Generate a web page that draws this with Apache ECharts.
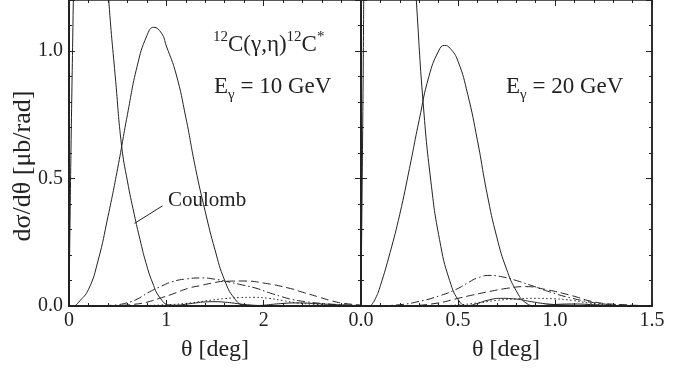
<!DOCTYPE html>
<html>
<head>
<meta charset="utf-8">
<script src="https://cdn.jsdelivr.net/npm/echarts@6/dist/echarts.min.js"></script>
<style>
  html, body { margin: 0; padding: 0; background: #fff; }
  #chart { width: 694px; height: 379px; }
</style>
</head>
<body>
<div id="chart"></div>
<script>
// E = 10 GeV panel (theta in deg, dsigma/dtheta in mub/rad)
const th10Coul = [0, 0.02, 0.044, 0.07, 0.1, 0.15, 0.2, 0.3, 0.41, 0.48, 0.54, 0.6, 0.67, 0.73, 0.79, 0.86, 0.93, 1.03, 1.1, 1.2, 1.3, 1.4, 1.5, 1.6, 1.7, 1.8, 2.0, 2.2, 2.5, 3.0];
const coul10 = [0, 0.6, 1.19, 1.9, 2.4, 2.6, 2.4, 1.8, 1.19, 0.88, 0.63, 0.49, 0.36, 0.26, 0.17, 0.09, 0.035, 0.004, 0.003, 0.007, 0.012, 0.016, 0.017, 0.015, 0.011, 0.006, 0.002, 0.002, 0.001, 0];
const th10Nuc = [0.06, 0.1, 0.2, 0.3, 0.4, 0.5, 0.6, 0.7, 0.8, 0.87, 0.95, 1.0, 1.1, 1.2, 1.3, 1.4, 1.5, 1.6, 1.7, 1.8, 1.9, 2.0, 2.1, 2.2, 2.3, 2.4, 2.5, 2.6, 2.8, 3.0];
const nuc10 = [0, 0.015, 0.065, 0.18, 0.35, 0.54, 0.75, 0.94, 1.06, 1.093, 1.07, 1.02, 0.91, 0.74, 0.54, 0.37, 0.22, 0.10, 0.03, 0.003, 0.001, 0.003, 0.007, 0.01, 0.012, 0.012, 0.01, 0.008, 0.004, 0.001];
const th10DashDot = [0.2, 0.4, 0.5, 0.6, 0.7, 0.83, 0.95, 1.06, 1.2, 1.37, 1.5, 1.61, 1.75, 1.92, 2.05, 2.19, 2.3, 2.43, 2.6, 2.8, 3.0];
const dashDot10 = [0, 0.002, 0.005, 0.013, 0.027, 0.056, 0.078, 0.095, 0.106, 0.11, 0.105, 0.097, 0.085, 0.07, 0.053, 0.036, 0.025, 0.017, 0.01, 0.005, 0.002];
const th10Dash = [0.3, 0.5, 0.7, 0.8, 0.93, 1.05, 1.23, 1.35, 1.47, 1.61, 1.8, 2.0, 2.26, 2.4, 2.56, 2.7, 2.83, 3.0];
const dash10 = [0, 0.002, 0.008, 0.015, 0.03, 0.045, 0.07, 0.08, 0.09, 0.097, 0.098, 0.09, 0.07, 0.054, 0.036, 0.02, 0.01, 0.004];
const th10Dot = [0.5, 0.8, 1.0, 1.2, 1.4, 1.6, 1.75, 1.9, 2.05, 2.2, 2.35, 2.5, 2.7, 3.0];
const dot10 = [0, 0.002, 0.005, 0.01, 0.02, 0.029, 0.033, 0.034, 0.03, 0.021, 0.012, 0.007, 0.003, 0.001];

// E = 20 GeV panel
const th20Coul = [0, 0.01, 0.02, 0.05, 0.1, 0.15, 0.2, 0.25, 0.285, 0.32, 0.36, 0.405, 0.457, 0.51, 0.55, 0.6, 0.65, 0.72, 0.8, 0.87, 0.95, 1.05, 1.2, 1.5];
const coul20 = [0, 0.8, 1.6, 2.8, 3.0, 2.7, 2.15, 1.62, 1.2, 0.80, 0.49, 0.26, 0.10, 0.015, 0.002, 0.01, 0.022, 0.03, 0.027, 0.018, 0.009, 0.004, 0.002, 0];
const th20Nuc = [0.05, 0.075, 0.1, 0.15, 0.2, 0.25, 0.3, 0.35, 0.4, 0.43, 0.46, 0.5, 0.55, 0.6, 0.65, 0.7, 0.75, 0.8, 0.85, 0.9, 1.0, 1.1, 1.2, 1.3, 1.5];
const nuc20 = [0, 0.03, 0.08, 0.21, 0.36, 0.54, 0.73, 0.90, 1.0, 1.022, 1.01, 0.96, 0.83, 0.65, 0.44, 0.27, 0.145, 0.06, 0.012, 0.001, 0.006, 0.008, 0.005, 0.002, 0.001];
const th20DashDot = [0.1, 0.2, 0.3, 0.405, 0.49, 0.56, 0.6, 0.665, 0.73, 0.8, 0.88, 0.97, 1.09, 1.23, 1.35, 1.5];
const dashDot20 = [0.001, 0.005, 0.018, 0.04, 0.065, 0.095, 0.11, 0.12, 0.114, 0.10, 0.08, 0.056, 0.03, 0.01, 0.004, 0.001];
const th20Dash = [0.3, 0.4, 0.5, 0.575, 0.65, 0.75, 0.85, 0.95, 1.09, 1.19, 1.3, 1.5];
const dash20 = [0.003, 0.012, 0.03, 0.043, 0.055, 0.069, 0.076, 0.065, 0.04, 0.018, 0.007, 0.001];
const th20Dot = [0.4, 0.5, 0.6, 0.7, 0.8, 0.9, 1.0, 1.09, 1.17, 1.25, 1.35, 1.5];
const dot20 = [0.001, 0.004, 0.012, 0.022, 0.028, 0.03, 0.028, 0.022, 0.012, 0.005, 0.002, 0];

// leader line for the "Coulomb" label, in data coordinates of the left panel
const leaderTheta = [0.673, 0.962];
const leaderValue = [0.324, 0.393];

const yMajorLabels = [0, 0.5, 1.0];

const INK = '#222';
const FONT = 'Liberation Serif';

const zip = (xs, ys) => xs.map((x, i) => [x, ys[i]]);

const curve = (name, xs, ys, grid, dash) => ({
  name,
  type: 'line',
  xAxisIndex: grid === 0 ? 0 : 2,
  yAxisIndex: grid === 0 ? 0 : 4,
  data: zip(xs, ys),
  smooth: 0.5,
  showSymbol: false,
  silent: true,
  clip: true,
  lineStyle: { color: INK, width: 1, type: dash || 'solid' },
});

const DASHDOT = [8, 3, 1.5, 3];
const DASH = [8, 4];
const DOT = [1.5, 2.5];

// x axes: bottom with labels, top with ticks only
const xAxisFor = (grid, max, interval, pos, labels) => ({
  type: 'value',
  gridIndex: grid,
  position: pos,
  min: 0,
  max,
  interval,
  axisLine: { show: true, onZero: false, lineStyle: { color: INK, width: pos === 'bottom' ? 2 : 1.5 } },
  axisTick: { show: true, inside: true, length: 6, lineStyle: { color: INK, width: 1 } },
  minorTick: { show: true, splitNumber: 5, length: 3, lineStyle: { color: INK, width: 1 } },
  splitLine: { show: false },
  axisLabel: {
    show: labels,
    margin: 5,
    color: INK,
    fontFamily: FONT,
    fontSize: 20,
    showMaxLabel: grid === 1,
    formatter: (v) => (grid === 0 ? String(v) : v.toFixed(1)),
  },
});

// y axes: one set for major ticks (0.5), one for minor ticks (0.1)
const yAxisFor = (grid, pos, major, labels, lw) => ({
  type: 'value',
  gridIndex: grid,
  position: pos,
  min: 0,
  max: 1.2,
  interval: major ? 0.5 : 0.1,
  axisLine: { show: true, onZero: false, lineStyle: { color: INK, width: lw } },
  axisTick: { show: true, inside: true, length: major ? 6 : 3, lineStyle: { color: INK, width: 1 } },
  splitLine: { show: false },
  axisLabel: {
    show: labels,
    margin: 6,
    color: INK,
    fontFamily: FONT,
    fontSize: 20,
    formatter: (v) => (yMajorLabels.some((m) => Math.abs(m - v) < 1e-6) ? v.toFixed(1) : ''),
  },
});

const chart = echarts.init(document.getElementById('chart'), null, { renderer: 'canvas' });

chart.setOption({
  backgroundColor: '#fff',
  animation: false,
  grid: [
    { left: 69, top: -2, width: 292, height: 308 },
    { left: 361, top: -2, width: 291, height: 308 },
  ],
  xAxis: [
    xAxisFor(0, 3, 1, 'bottom', true),
    xAxisFor(0, 3, 1, 'top', false),
    xAxisFor(1, 1.5, 0.5, 'bottom', true),
    xAxisFor(1, 1.5, 0.5, 'top', false),
  ],
  yAxis: [
    yAxisFor(0, 'left', true, true, 2),
    yAxisFor(0, 'left', false, false, 2),
    yAxisFor(0, 'right', true, false, 2),
    yAxisFor(0, 'right', false, false, 2),
    yAxisFor(1, 'left', true, false, 2),
    yAxisFor(1, 'left', false, false, 2),
    yAxisFor(1, 'right', true, false, 1.5),
    yAxisFor(1, 'right', false, false, 1.5),
  ],
  series: [
    curve('Coulomb 10', th10Coul, coul10, 0),
    curve('Nuclear 10', th10Nuc, nuc10, 0),
    curve('Dash-dot 10', th10DashDot, dashDot10, 0, DASHDOT),
    curve('Dashed 10', th10Dash, dash10, 0, DASH),
    curve('Dotted 10', th10Dot, dot10, 0, DOT),
    {
      name: 'leader',
      type: 'line',
      xAxisIndex: 0,
      yAxisIndex: 0,
      data: zip(leaderTheta, leaderValue),
      showSymbol: false,
      silent: true,
      lineStyle: { color: INK, width: 1 },
    },
    curve('Coulomb 20', th20Coul, coul20, 1),
    curve('Nuclear 20', th20Nuc, nuc20, 1),
    curve('Dash-dot 20', th20DashDot, dashDot20, 1, DASHDOT),
    curve('Dashed 20', th20Dash, dash20, 1, DASH),
    curve('Dotted 20', th20Dot, dot20, 1, DOT),
  ],
  graphic: [
    {
      type: 'text',
      x: 23,
      y: 166,
      rotation: Math.PI / 2,
      style: {
        text: 'dσ/dθ [μb/rad]',
        fill: INK,
        font: '26px "Liberation Serif"',
        align: 'center',
        verticalAlign: 'middle',
      },
    },
    {
      type: 'text',
      x: 215,
      y: 350,
      style: { text: 'θ [deg]', fill: INK, font: '24px "Liberation Serif"', align: 'center', verticalAlign: 'middle' },
    },
    {
      type: 'text',
      x: 506,
      y: 350,
      style: { text: 'θ [deg]', fill: INK, font: '24px "Liberation Serif"', align: 'center', verticalAlign: 'middle' },
    },
    {
      type: 'text',
      x: 168,
      y: 200,
      style: { text: 'Coulomb', fill: INK, font: '21px "Liberation Serif"', align: 'left', verticalAlign: 'middle' },
    },
    {
      type: 'text',
      x: 213,
      y: 30,
      style: {
        text: '{s|12}{m|C(γ,η)}{s|12}{m|C}{s|*}',
        fill: INK,
        rich: {
          s: { fontFamily: FONT, fontSize: 15, verticalAlign: 'top', lineHeight: 26, fill: INK },
          m: { fontFamily: FONT, fontSize: 23, lineHeight: 26, verticalAlign: 'bottom', fill: INK },
        },
      },
    },
    {
      type: 'text',
      x: 214,
      y: 75,
      style: {
        text: '{m|E}{b|γ}{m| = 10 GeV}',
        fill: INK,
        rich: {
          m: { fontFamily: FONT, fontSize: 23, lineHeight: 28, verticalAlign: 'top', fill: INK },
          b: { fontFamily: FONT, fontSize: 15, lineHeight: 28, verticalAlign: 'bottom', fill: INK },
        },
      },
    },
    {
      type: 'text',
      x: 506,
      y: 75,
      style: {
        text: '{m|E}{b|γ}{m| = 20 GeV}',
        fill: INK,
        rich: {
          m: { fontFamily: FONT, fontSize: 23, lineHeight: 28, verticalAlign: 'top', fill: INK },
          b: { fontFamily: FONT, fontSize: 15, lineHeight: 28, verticalAlign: 'bottom', fill: INK },
        },
      },
    },
  ],
});
</script>
</body>
</html>
